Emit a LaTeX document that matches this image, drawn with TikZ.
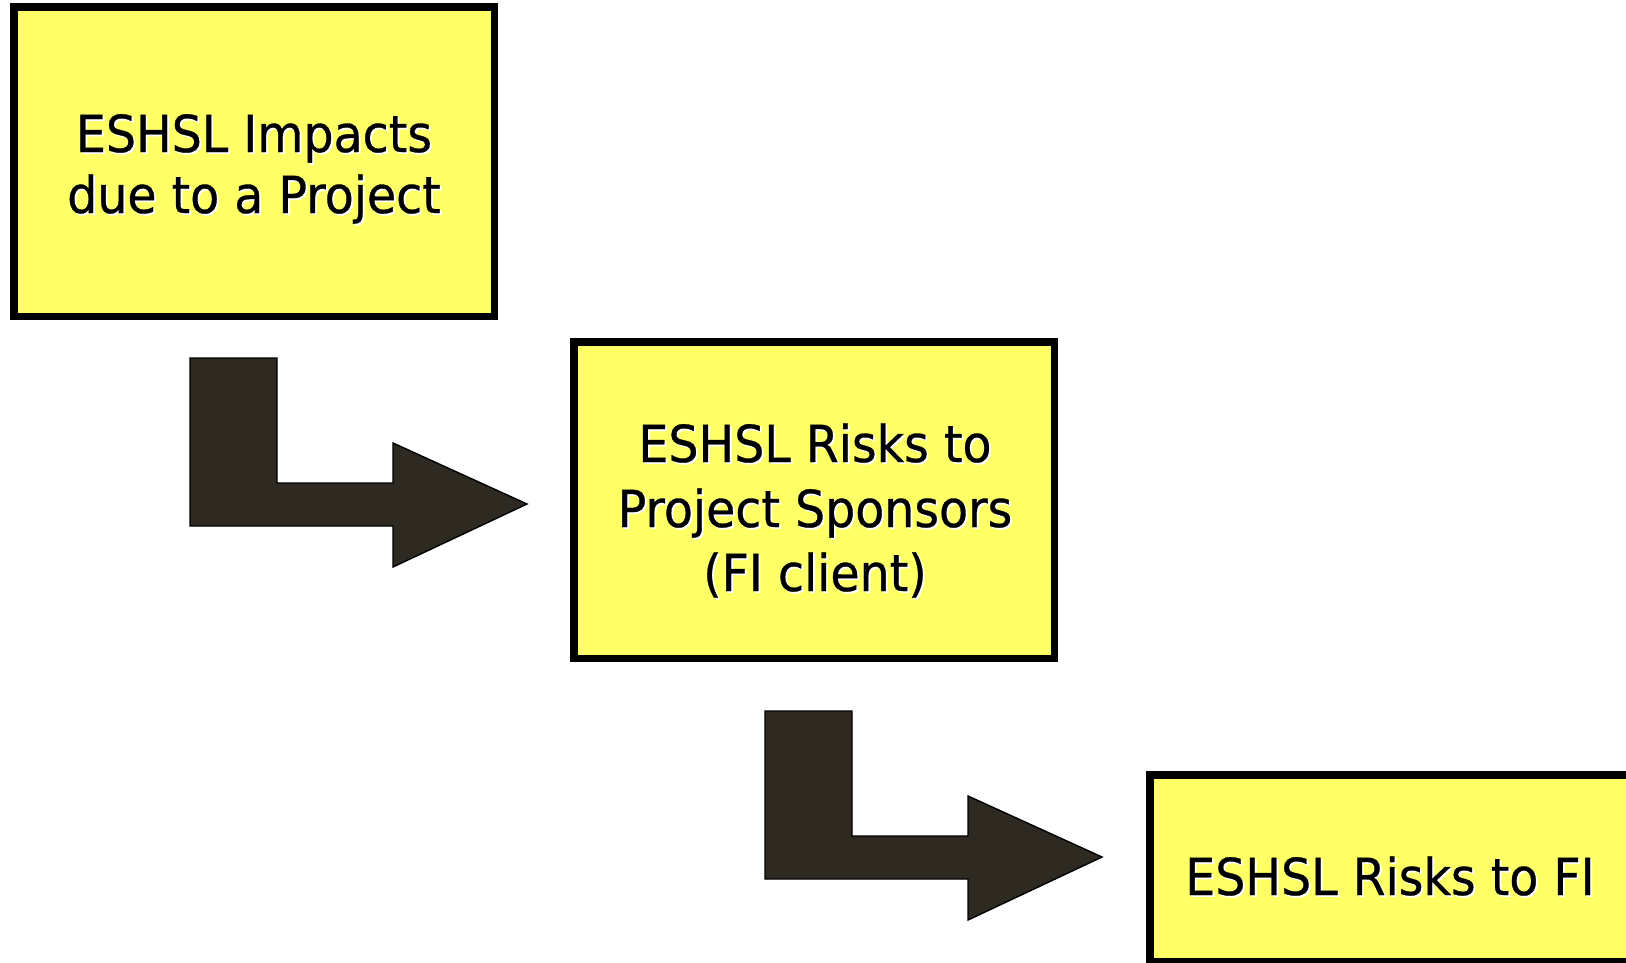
\documentclass[tikz,border=0pt]{standalone}
\usepackage{fontspec}
\setmainfont[FakeStretch=0.93,FakeBold=0.6]{DejaVu Sans}
\definecolor{boxyellow}{HTML}{FFFF66}
\definecolor{arrowdark}{HTML}{2E2A21}
\newcommand{\shtxt}[1]{\makebox[0pt][l]{\raisebox{-1.8pt}{\hspace{1.8pt}\textcolor{white}{#1}}}#1}
\tikzset{
  stagebox/.style={draw=black, line width=7.5pt, fill=boxyellow},
  stagetext/.style={anchor=base, inner sep=0pt, font=\fontsize{51}{62}\selectfont},
  bentarrow/.pic={
    \path[fill=arrowdark, draw=black, line width=1.4pt, line join=miter]
      (0,0) -- (87,0) -- (87,125) -- (203,125) -- (203,85) -- (337,146)
      -- (203,209) -- (203,168) -- (0,168) -- cycle;
  }
}
\begin{document}
\begin{tikzpicture}[x=1pt, y=-1pt]
\useasboundingbox (0,0) rectangle (1626,962);
\clip (0,0) rectangle (1626,962);
\fill[white] (0,0) rectangle (1626,962);
% boxes
\draw[stagebox] (13.75,6.75) rectangle (494.25,316.25);
\draw[stagebox] (573.75,341.75) rectangle (1054.25,658.25);
\draw[stagebox] (1149.75,774.75) rectangle (1700,961.75);
% texts
\node[stagetext] (t1a) at (254,152) {\shtxt{ESHSL Impacts}};
\node[stagetext] (t1b) at (254,213) {\shtxt{due to a Project}};
\node[stagetext] (t2a) at (815,462) {\shtxt{ESHSL Risks to}};
\node[stagetext] (t2b) at (815,527) {\shtxt{Project Sponsors}};
\node[stagetext] (t2c) at (815,591) {\shtxt{(FI client)}};
\node[stagetext] (t3a) at (1390,895) {\shtxt{ESHSL Risks to FI}};
% bent arrows
\pic at (190,358) {bentarrow};
\pic at (765,711) {bentarrow};
\end{tikzpicture}
\end{document}
